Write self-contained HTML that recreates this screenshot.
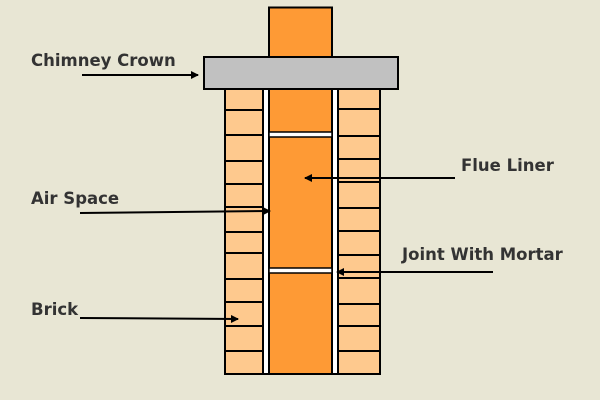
<!DOCTYPE html>
<html><head><style>
html,body{margin:0;padding:0;background:#e8e6d4;}
svg{display:block}
text{font-family:"DejaVu Sans","Liberation Sans",sans-serif;font-weight:bold;font-size:16.5px;fill:#333;}
</style></head><body>
<svg width="600" height="400" viewBox="0 0 600 400" xmlns="http://www.w3.org/2000/svg">
<defs><marker id="a" markerWidth="8" markerHeight="8" refX="7" refY="4" orient="auto" markerUnits="userSpaceOnUse"><path d="M0,0 L8,4 L0,8 Z" fill="#000"/></marker></defs>
<rect x="0" y="0" width="600" height="400" fill="#e8e6d4"/>
<rect x="269" y="7.5" width="63" height="60" fill="#fe9a35" stroke="#000" stroke-width="2"/>
<rect x="225" y="88" width="38" height="286" fill="#fec98e" stroke="#000" stroke-width="2"/>
<rect x="338" y="88" width="42" height="286" fill="#fec98e" stroke="#000" stroke-width="2"/>
<g stroke="#000" stroke-width="2">
<line x1="225" x2="263" y1="110" y2="110"/><line x1="225" x2="263" y1="135" y2="135"/><line x1="225" x2="263" y1="161" y2="161"/><line x1="225" x2="263" y1="184" y2="184"/><line x1="225" x2="263" y1="207" y2="207"/><line x1="225" x2="263" y1="232" y2="232"/><line x1="225" x2="263" y1="253" y2="253"/><line x1="225" x2="263" y1="279" y2="279"/><line x1="225" x2="263" y1="302" y2="302"/><line x1="225" x2="263" y1="326" y2="326"/><line x1="225" x2="263" y1="351" y2="351"/>
<line x1="338" x2="380" y1="109" y2="109"/><line x1="338" x2="380" y1="136" y2="136"/><line x1="338" x2="380" y1="159" y2="159"/><line x1="338" x2="380" y1="182" y2="182"/><line x1="338" x2="380" y1="208" y2="208"/><line x1="338" x2="380" y1="231" y2="231"/><line x1="338" x2="380" y1="255" y2="255"/><line x1="338" x2="380" y1="278" y2="278"/><line x1="338" x2="380" y1="304" y2="304"/><line x1="338" x2="380" y1="326" y2="326"/><line x1="338" x2="380" y1="351" y2="351"/>
</g>
<rect x="263" y="88" width="6" height="286" fill="#fff" stroke="#000" stroke-width="2"/>
<rect x="332" y="88" width="6" height="286" fill="#fff" stroke="#000" stroke-width="2"/>
<rect x="269" y="88" width="63" height="286" fill="#fe9a35" stroke="#000" stroke-width="2"/>
<rect x="269" y="132" width="63" height="5" fill="#fff" stroke="#000" stroke-width="1.5"/>
<rect x="269" y="268" width="63" height="5" fill="#fff" stroke="#000" stroke-width="1.5"/>
<rect x="204" y="57" width="194" height="32" fill="#c1c1c1" stroke="#000" stroke-width="2"/>
<text x="31" y="66">Chimney Crown</text>
<text x="461" y="171">Flue Liner</text>
<text x="31" y="204">Air Space</text>
<text x="402" y="260">Joint With Mortar</text>
<text x="31" y="315">Brick</text>
<g stroke="#000" stroke-width="2" marker-end="url(#a)">
<line x1="82" y1="75" x2="198" y2="75"/>
<line x1="455" y1="178" x2="305" y2="178"/>
<line x1="80" y1="213" x2="270" y2="211"/>
<line x1="493" y1="272" x2="337" y2="272"/>
<line x1="80" y1="318" x2="238" y2="319"/>
</g>
</svg>
</body></html>
